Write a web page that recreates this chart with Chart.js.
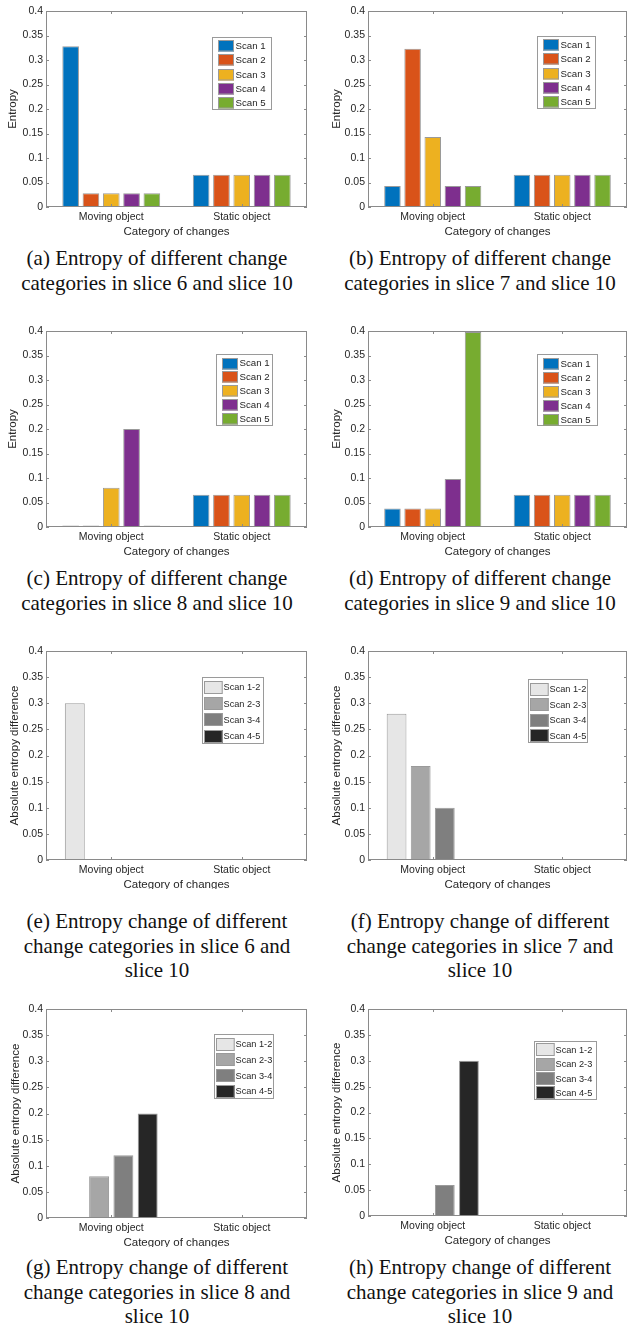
<!DOCTYPE html>
<html>
<head>
<meta charset="utf-8">
<script src="https://cdn.jsdelivr.net/npm/chart.js@4.4.0/dist/chart.umd.min.js"></script>
<style>
  html, body { margin: 0; padding: 0; background: #fff; }
  body { width: 628px; height: 1329px; position: relative; overflow: hidden; }
  .panel { position: absolute; overflow: hidden; }
  .panel canvas { display: block; }
  .cap {
    position: absolute; width: 330px; text-align: center; white-space: nowrap;
    font-family: "Liberation Serif", "Times New Roman", serif; font-size: 21px;
    line-height: 24.5px; color: #111;
  }
</style>
</head>
<body>
<script>
// ---- data ----
const categories = ['Moving object', 'Static object'];
const scanNames = ['Scan 1', 'Scan 2', 'Scan 3', 'Scan 4', 'Scan 5'];
const pairNames = ['Scan 1-2', 'Scan 2-3', 'Scan 3-4', 'Scan 4-5'];
const yTickLabels = ['0', '0.05', '0.1', '0.15', '0.2', '0.25', '0.3', '0.35', '0.4'];

// entropy of each scan, slice N compared with slice 10
const slice6Moving = [0.328, 0.028, 0.028, 0.028, 0.028];
const slice6Static = [0.066, 0.066, 0.066, 0.066, 0.066];
const slice7Moving = [0.043, 0.323, 0.143, 0.043, 0.043];
const slice7Static = [0.066, 0.066, 0.066, 0.066, 0.066];
const slice8Moving = [0, 0, 0.08, 0.2, 0];
const slice8Static = [0.066, 0.066, 0.066, 0.066, 0.066];
const slice9Moving = [0.038, 0.038, 0.038, 0.098, 0.398];
const slice9Static = [0.066, 0.066, 0.066, 0.066, 0.066];

// absolute entropy difference between consecutive scans
const diff6Moving = [0.3, 0, 0, 0];
const diff6Static = [0, 0, 0, 0];
const diff7Moving = [0.28, 0.18, 0.1, 0];
const diff7Static = [0, 0, 0, 0];
const diff8Moving = [0, 0.08, 0.12, 0.2];
const diff8Static = [0, 0, 0, 0];
const diff9Moving = [0, 0, 0.06, 0.3];
const diff9Static = [0, 0, 0, 0];

// ---- styling ----
const scanColors = ['#0072BD', '#D95319', '#EDB120', '#7E2F8E', '#77AC30'];
const pairColors = ['#e6e6e6', '#a6a6a6', '#7f7f7f', '#262626'];
const SANS = '"Liberation Sans", Arial, sans-serif';
const AXIS = '#8a8a8a';
const TEXT = '#262626';
const EDGE = '#9a9a9a';

const scanStyle = { sw: 16, sh: 11.5, padL: 6, gap: 1.5, font: '9.7px ' + SANS, cat: 0.778, bar: 0.82, minLen: 1.5 };
const pairStyle = { sw: 18.7, sh: 13, padL: 1.8, gap: 0.8, font: '9.2px ' + SANS, cat: 0.745, bar: 0.82, minLen: 0 };

const panels = [
  { moving: slice6Moving, stat: slice6Static, names: scanNames, colors: scanColors, st: scanStyle, yTitle: 'Entropy',
    L: 46, R: 307, T: 11, B: 207, clipB: 0, ytp: 6, lg: { x: 212, y: 36.7, w: 59.7, h: 73.3 } },
  { moving: slice7Moving, stat: slice7Static, names: scanNames, colors: scanColors, st: scanStyle, yTitle: 'Entropy',
    L: 368, R: 627, T: 11, B: 207, clipB: 0, ytp: 8, lg: { x: 536.7, y: 36, w: 59, h: 72.7 } },
  { moving: slice8Moving, stat: slice8Static, names: scanNames, colors: scanColors, st: scanStyle, yTitle: 'Entropy',
    L: 46, R: 307, T: 331, B: 527, clipB: 0, ytp: 6, lg: { x: 216, y: 354.3, w: 57.3, h: 71.7 } },
  { moving: slice9Moving, stat: slice9Static, names: scanNames, colors: scanColors, st: scanStyle, yTitle: 'Entropy',
    L: 368, R: 627, T: 331, B: 527, clipB: 0, ytp: 8, lg: { x: 537.3, y: 354.3, w: 61, h: 72.3 } },
  { moving: diff6Moving, stat: diff6Static, names: pairNames, colors: pairColors, st: pairStyle, yTitle: 'Absolute entropy difference',
    L: 46, R: 307, T: 651, B: 860, clipB: 889, ytp: 8, lg: { x: 202.3, y: 677.3, w: 62, h: 67 } },
  { moving: diff7Moving, stat: diff7Static, names: pairNames, colors: pairColors, st: pairStyle, yTitle: 'Absolute entropy difference',
    L: 368, R: 627, T: 651, B: 860, clipB: 889, ytp: 8, lg: { x: 528, y: 679.3, w: 60, h: 64 } },
  { moving: diff8Moving, stat: diff8Static, names: pairNames, colors: pairColors, st: pairStyle, yTitle: 'Absolute entropy difference',
    L: 46, R: 307, T: 1009, B: 1218, clipB: 1247, ytp: 9, lg: { x: 214.3, y: 1034.3, w: 60, h: 64.7 } },
  { moving: diff9Moving, stat: diff9Static, names: pairNames, colors: pairColors, st: pairStyle, yTitle: 'Absolute entropy difference',
    L: 368, R: 627, T: 1009, B: 1216, clipB: 1247, ytp: 8, lg: { x: 534, y: 1040.7, w: 62.7, h: 59.3 } },
];

const captions = [
  { cx: 157, top: 246, html: '(a) Entropy of different change<br>categories in slice 6 and slice 10' },
  { cx: 480, top: 246, html: '(b) Entropy of different change<br>categories in slice 7 and slice 10' },
  { cx: 157, top: 566, html: '(c) Entropy of different change<br>categories in slice 8 and slice 10' },
  { cx: 480, top: 566, html: '(d) Entropy of different change<br>categories in slice 9 and slice 10' },
  { cx: 157, top: 909, html: '(e) Entropy change of different<br>change categories in slice 6 and<br>slice 10' },
  { cx: 480, top: 909, html: '(f) Entropy change of different<br>change categories in slice 7 and<br>slice 10' },
  { cx: 157, top: 1255, html: '(g) Entropy change of different<br>change categories in slice 8 and<br>slice 10' },
  { cx: 480, top: 1255, html: '(h) Entropy change of different<br>change categories in slice 9 and<br>slice 10' },
];

// box around the axes with inward tick marks on all four sides
const axesBox = {
  id: 'axesBox',
  afterDatasetsDraw(chart) {
    const { ctx, chartArea: a, scales: { x, y } } = chart;
    ctx.save();
    ctx.strokeStyle = AXIS;
    ctx.lineWidth = 1;
    ctx.strokeRect(a.left + 0.5, a.top + 0.5, a.right - a.left - 1, a.bottom - a.top - 1);
    ctx.beginPath();
    y.ticks.forEach((t, i) => {
      const py = Math.round(y.getPixelForTick(i)) + 0.5;
      ctx.moveTo(a.left, py); ctx.lineTo(a.left + 3, py);
      ctx.moveTo(a.right - 3, py); ctx.lineTo(a.right, py);
    });
    x.ticks.forEach((t, i) => {
      const px = Math.round(x.getPixelForTick(i)) + 0.5;
      ctx.moveTo(px, a.bottom); ctx.lineTo(px, a.bottom - 3);
      ctx.moveTo(px, a.top); ctx.lineTo(px, a.top + 3);
    });
    ctx.stroke();
    ctx.restore();
  }
};

// framed legend placed inside the axes
const boxLegend = {
  id: 'boxLegend',
  afterDraw(chart, args, o) {
    const { ctx } = chart;
    const { x, y, w, h, sw, sh, padL, gap, font } = o;
    ctx.save();
    ctx.fillStyle = '#fff';
    ctx.fillRect(x, y, w, h);
    ctx.strokeStyle = EDGE;
    ctx.lineWidth = 1;
    ctx.strokeRect(Math.round(x) + 0.5, Math.round(y) + 0.5, Math.round(w) - 1, Math.round(h) - 1);
    const ds = chart.data.datasets;
    const pitch = (h - 2) / ds.length;
    ds.forEach((d, i) => {
      const cy = y + 2 + pitch * (i + 0.5);
      const sx = Math.round(x + padL), sy = Math.round(cy - sh / 2);
      ctx.fillStyle = d.backgroundColor;
      ctx.fillRect(sx, sy, sw, sh);
      ctx.strokeStyle = EDGE;
      ctx.strokeRect(sx + 0.5, sy + 0.5, sw - 1, sh - 1);
      ctx.fillStyle = TEXT;
      ctx.font = font;
      ctx.textBaseline = 'middle';
      ctx.textAlign = 'left';
      ctx.fillText(d.label, sx + sw + gap, cy + 0.5);
    });
    ctx.restore();
  }
};

const LEFT = 46;   // room for y ticks and title
const TOPPAD = 11;
const XAREA = 36;  // room for x ticks and title
const RIGHTPAD = 2;

panels.forEach(p => {
  const left = p.L - LEFT, top = p.T - TOPPAD;
  const w = p.R - p.L + LEFT + RIGHTPAD;
  const h = p.B - p.T + TOPPAD + XAREA;
  const div = document.createElement('div');
  div.className = 'panel';
  div.style.left = left + 'px';
  div.style.top = top + 'px';
  div.style.width = w + 'px';
  div.style.height = (p.clipB ? p.clipB - top : h) + 'px';
  const cv = document.createElement('canvas');
  cv.width = w; cv.height = h;
  cv.style.width = w + 'px'; cv.style.height = h + 'px';
  div.appendChild(cv);
  document.body.appendChild(div);

  const datasets = p.names.map((n, i) => ({
    label: n,
    data: [p.moving[i], p.stat[i]],
    backgroundColor: p.colors[i],
    borderColor: EDGE,
    borderWidth: 1,
    borderSkipped: false,
    categoryPercentage: p.st.cat,
    barPercentage: p.st.bar,
    minBarLength: p.st.minLen,
  }));

  new Chart(cv, {
    type: 'bar',
    data: { labels: categories, datasets },
    plugins: [axesBox, boxLegend],
    options: {
      responsive: false,
      animation: false,
      devicePixelRatio: 1,
      layout: { padding: { left: 0, top: TOPPAD, right: RIGHTPAD, bottom: 0 } },
      plugins: {
        legend: { display: false },
        tooltip: { enabled: false },
        boxLegend: {
          x: p.lg.x - left, y: p.lg.y - top, w: p.lg.w, h: p.lg.h,
          sw: p.st.sw, sh: p.st.sh, padL: p.st.padL, gap: p.st.gap, font: p.st.font
        }
      },
      scales: {
        x: {
          grid: { display: false, drawTicks: false },
          border: { display: false },
          ticks: { color: TEXT, font: { family: SANS, size: 10.5 }, padding: 4, maxRotation: 0 },
          title: { display: true, text: 'Category of changes', color: TEXT,
                   font: { family: SANS, size: 11.5 }, padding: { top: 0, bottom: 4 } },
          afterFit: s => { s.height = XAREA; }
        },
        y: {
          min: 0, max: 0.4,
          grid: { display: false, drawTicks: false },
          border: { display: false },
          ticks: { stepSize: 0.05, color: TEXT, font: { family: SANS, size: 10.5 }, padding: 3,
                   callback: v => yTickLabels[Math.round(v / 0.05)] },
          title: { display: true, text: p.yTitle, color: TEXT,
                   font: { family: SANS, size: 11.5 }, padding: { top: p.ytp, bottom: 0 } },
          afterFit: s => { s.width = LEFT; }
        }
      }
    }
  });
});

captions.forEach(c => {
  const d = document.createElement('div');
  d.className = 'cap';
  d.style.left = (c.cx - 165) + 'px';
  d.style.top = c.top + 'px';
  d.innerHTML = c.html;
  document.body.appendChild(d);
});
</script>
</body>
</html>
